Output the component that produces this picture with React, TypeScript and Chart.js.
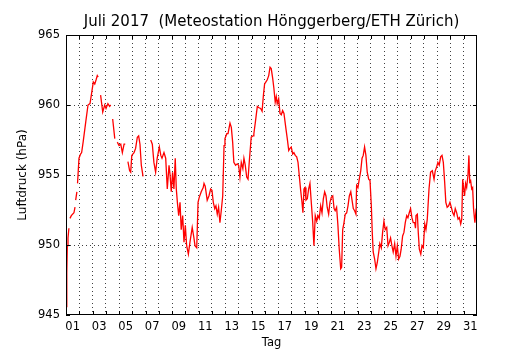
import React, { useEffect, useRef } from 'react';
import { Chart, registerables } from 'chart.js';

Chart.register(...registerables);

const chartTitle = 'Juli 2017  (Meteostation Hönggerberg/ETH Zürich)';
const yAxisTitle = 'Luftdruck (hPa)';
const xAxisTitle = 'Tag';

const dayCount = 31;
const labelDays = [1, 3, 5, 7, 9, 11, 13, 15, 17, 19, 21, 23, 25, 27, 29, 31];
const dayLabels = ['01', '03', '05', '07', '09', '11', '13', '15', '17', '19', '21', '23', '25', '27', '29', '31'];
const yTicks = [945, 950, 955, 960, 965];

// time in days since 1 July 00:00
const sampleDays = [
  0.02, 0.06, 0.10, 0.15, 0.22, 0.26, 0.30, 0.40, 0.60, 0.68, 0.71, 0.73, 0.82, 0.85, 0.87, 0.98,
  1.10, 1.18, 1.30, 1.49, 1.66, 1.81, 1.91, 2.06, 2.17, 2.27, 2.36, 2.43, 2.51, 2.61, 2.77, 2.92,
  3.02, 3.16, 3.29, 3.37, 3.45, 3.52, 3.68, 3.75, 3.87, 4.00, 4.13, 4.25, 4.38, 4.47, 4.56, 4.67,
  4.80, 4.88, 4.96, 5.13, 5.25, 5.38, 5.48, 5.58, 5.68, 5.81, 6.10, 6.39, 6.51, 6.63, 6.76, 6.88,
  7.04, 7.15, 7.24, 7.39, 7.52, 7.64, 7.77, 7.85, 7.94, 8.04, 8.14, 8.24, 8.32, 8.40, 8.50, 8.60,
  8.69, 8.80, 8.90, 9.00, 9.10, 9.23, 9.35, 9.52, 9.65, 9.73, 9.86, 9.96, 10.05, 10.20, 10.35, 10.41,
  10.50, 10.65, 10.78, 10.91, 11.01, 11.11, 11.22, 11.31, 11.41, 11.51, 11.61, 11.71, 11.82, 11.92, 11.99, 12.13,
  12.22, 12.37, 12.47, 12.57, 12.66, 12.79, 12.92, 13.02, 13.12, 13.22, 13.34, 13.42, 13.52, 13.63, 13.73, 13.82,
  13.97, 14.11, 14.17, 14.30, 14.43, 14.56, 14.68, 14.79, 14.89, 14.98, 15.08, 15.18, 15.29, 15.39, 15.48, 15.59,
  15.68, 15.78, 15.86, 15.93, 16.04, 16.14, 16.24, 16.34, 16.44, 16.59, 16.69, 16.80, 16.89, 16.99, 17.10, 17.19,
  17.29, 17.40, 17.50, 17.59, 17.70, 17.80, 17.87, 17.95, 18.03, 18.10, 18.20, 18.30, 18.40, 18.50, 18.61, 18.70,
  18.80, 18.91, 19.00, 19.10, 19.21, 19.31, 19.41, 19.51, 19.61, 19.70, 19.81, 19.91, 20.01, 20.12, 20.22, 20.30,
  20.41, 20.51, 20.61, 20.72, 20.79, 20.87, 20.97, 21.06, 21.17, 21.27, 21.37, 21.48, 21.56, 21.67, 21.77, 21.87,
  21.92, 22.02, 22.12, 22.23, 22.33, 22.42, 22.52, 22.62, 22.72, 22.83, 22.93, 23.03, 23.10, 23.17, 23.28, 23.38,
  23.48, 23.59, 23.67, 23.78, 23.88, 23.98, 24.08, 24.19, 24.29, 24.39, 24.48, 24.58, 24.68, 24.79, 24.89, 24.99,
  25.09, 25.19, 25.28, 25.39, 25.49, 25.59, 25.70, 25.79, 25.89, 25.99, 26.09, 26.19, 26.30, 26.36, 26.40, 26.50,
  26.57, 26.65, 26.76, 26.85, 26.95, 27.06, 27.15, 27.25, 27.38, 27.50, 27.63, 27.76, 27.85, 27.95, 28.05, 28.15,
  28.26, 28.36, 28.46, 28.56, 28.65, 28.75, 28.86, 28.96, 29.06, 29.17, 29.27, 29.36, 29.47, 29.57, 29.67, 29.77,
  29.85, 29.92, 29.99, 30.06, 30.14, 30.22, 30.32, 30.39, 30.45, 30.52, 30.60, 30.67, 30.74, 30.84, 30.94,
];

// air pressure in hPa (null = missing data)
const pressureHpa: (number | null)[] = [
  945.6, 948.0, 949.95, 950.5, 951.2, null, 951.9, 952.1, 952.3, 952.7, null, 953.2, 953.8, null, 954.4, 956.2,
  956.5, 956.6, 957.4, 958.8, 960.0, 960.1, 960.7, 961.65, 961.5, 961.8, 962.1, 962.0, null, 960.7, 959.5, 960.0,
  959.75, 960.1, 959.9, 960.0, null, 959.0, 957.6, null, 957.35, 957.1, 957.2, 956.6, 957.2, 957.2, null, 955.95,
  955.3, 955.2, 956.4, 956.6, 956.9, 957.7, 957.8, 957.2, 955.7, 954.9, null, 957.5, 957.2, 955.9, 955.2, 956.2,
  957.0, 956.4, 956.2, 956.6, 956.2, 954.0, 955.7, 955.0, 953.8, 955.2, 954.0, 956.2, 954.0, 953.05, 952.1, 953.05,
  951.1, 952.1, 950.2, 951.4, 949.95, 949.35, 950.2, 951.25, 950.5, 949.95, 949.8, 953.05, 953.4, 953.8, 954.1, 954.4,
  954.2, 953.2, 953.5, 954.0, 953.9, 953.05, 952.6, 952.8, 952.2, 952.7, 951.6, 952.45, 953.5, 957.1, 957.6, 957.95,
  957.95, 958.7, 958.4, 957.35, 955.9, 955.7, 955.8, 955.7, 954.85, 955.9, 955.45, 956.2, 955.7, 954.85, 954.7, 955.9,
  957.7, 957.8, 957.95, 958.9, 959.9, 959.8, 959.75, 959.55, 960.7, 961.5, 961.65, 961.8, 962.1, 962.7, 962.6, 961.9,
  961.2, 960.2, 960.6, 960.1, 960.45, 959.4, 959.3, 959.6, 959.4, 958.3, 957.6, 956.75, 956.9, 957.0, 956.5, 956.6,
  956.4, 956.3, 955.9, 955.0, 953.9, 953.05, 952.3, 954.0, 954.1, 953.2, 953.3, 954.0, 954.4, 953.05, 951.6, 949.95,
  952.1, 951.7, 952.1, 951.9, 952.8, 952.3, 953.3, 953.8, 953.5, 952.7, 952.2, 953.05, 953.4, 953.5, 952.6, 952.45,
  952.7, 951.4, 949.7, 948.3, 948.4, 951.1, 951.6, 952.2, 952.3, 952.8, 953.5, 953.8, 953.3, 952.6, 952.45, 952.2,
  954.25, 954.1, 954.7, 955.3, 956.2, 956.4, 957.0, 956.4, 955.2, 954.7, 954.6, 952.8, 950.9, 949.5, 949.0, 948.3,
  948.75, 949.5, 950.1, 949.8, 950.9, 951.7, 951.1, 951.25, 949.95, 950.2, 950.5, 949.95, 949.5, 950.1, 949.2, 949.95,
  949.0, 949.2, 949.7, 950.65, 950.9, 951.6, 952.1, 951.95, 952.3, 952.6, 951.95, 951.6, 951.6, 951.2, 952.1, 952.2,
  950.9, 949.7, 949.35, 949.95, 949.8, 951.5, 951.1, 951.85, 954.0, 955.2, 955.3, 954.7, 955.3, 955.55, 955.9, 955.7,
  956.3, 956.4, 955.9, 954.5, 953.05, 952.7, 952.8, 953.05, 952.7, 952.3, 952.1, 952.6, 952.3, 951.85, 951.95, 951.5,
  951.85, 954.7, 954.1, 953.5, 954.4, 954.1, 955.0, 956.4, 954.5, 954.6, 954.0, 954.1, 952.6, 951.6, 952.6,
];

const FONT = 'DejaVu Sans';
const gridDots = 'rgba(0,0,0,0.75)';

const framePlugin = {
  id: 'mplFrame',
  afterDatasetsDraw(chart: any) {
    const { ctx, chartArea, scales } = chart;
    const { left, right, top, bottom } = chartArea;
    const xs = scales.x;
    const ys = scales.y;
    ctx.save();
    ctx.strokeStyle = '#000';
    ctx.lineWidth = 1;
    ctx.beginPath();
    for (let d = 1; d < dayCount; d++) {
      const px = Math.round(xs.getPixelForValue(d)) + 0.5;
      ctx.moveTo(px, bottom);
      ctx.lineTo(px, bottom - 4);
      ctx.moveTo(px, top);
      ctx.lineTo(px, top + 4);
    }
    for (const v of yTicks) {
      const py = Math.round(ys.getPixelForValue(v)) + 0.5;
      ctx.moveTo(left, py);
      ctx.lineTo(left + 4, py);
      ctx.moveTo(right, py);
      ctx.lineTo(right - 4, py);
    }
    ctx.stroke();
    ctx.strokeRect(left + 0.5, top + 0.5, right - left - 1, bottom - top - 1);
    ctx.restore();
  },
};

export default function App() {
  const canvasRef = useRef<HTMLCanvasElement | null>(null);

  useEffect(() => {
    if (!canvasRef.current) return;
    const points = sampleDays.map((t, i) => ({ x: t, y: pressureHpa[i] }));

    const chart = new Chart(canvasRef.current, {
      type: 'line',
      data: {
        datasets: [
          {
            data: points as any,
            borderColor: '#ff0000',
            borderWidth: 1.3,
            pointRadius: 0,
            tension: 0,
            spanGaps: false,
            fill: false,
          },
        ],
      },
      options: {
        animation: false,
        responsive: false,
        devicePixelRatio: 1,
        events: [],
        layout: { padding: { left: 0, right: 53, top: 0, bottom: 0 } },
        plugins: {
          legend: { display: false },
          tooltip: { enabled: false },
          title: {
            display: true,
            text: chartTitle,
            fullSize: false,
            color: '#000',
            font: { family: FONT, size: 15, weight: 'normal' as any },
            padding: { top: 13.5, bottom: 3.5 },
          },
        },
        scales: {
          x: {
            type: 'linear',
            min: 0,
            max: dayCount,
            afterBuildTicks: (scale: any) => {
              const ticks = [];
              for (let i = 0; i <= dayCount * 2; i++) ticks.push({ value: i / 2 });
              scale.ticks = ticks;
            },
            afterFit: (scale: any) => {
              scale.height = 35;
            },
            ticks: {
              autoSkip: false,
              maxRotation: 0,
              minRotation: 0,
              padding: 5,
              color: '#000',
              font: { family: FONT, size: 11.5 },
              callback: (value: any) => {
                const idx = labelDays.indexOf(Number(value) + 0.5);
                return idx >= 0 ? dayLabels[idx] : '';
              },
            },
            grid: {
              drawTicks: false,
              lineWidth: 1,
              color: (ctx: any) => {
                const v = ctx.tick ? ctx.tick.value : -1;
                return Number.isInteger(v) && v > 0 && v < dayCount ? gridDots : 'rgba(0,0,0,0)';
              },
            },
            border: { display: false, dash: [1, 3] },
            title: {
              display: true,
              text: xAxisTitle,
              color: '#000',
              font: { family: FONT, size: 11.5 },
              padding: { top: 0, bottom: 0 },
            },
          },
          y: {
            type: 'linear',
            min: yTicks[0],
            max: yTicks[yTicks.length - 1],
            afterBuildTicks: (scale: any) => {
              scale.ticks = yTicks.map((v) => ({ value: v }));
            },
            afterFit: (scale: any) => {
              scale.width = 66;
            },
            ticks: {
              padding: 6,
              color: '#000',
              font: { family: FONT, size: 11.5 },
              callback: (value: any) => String(value),
            },
            grid: {
              drawTicks: false,
              lineWidth: 1,
              color: (ctx: any) => {
                const v = ctx.tick ? ctx.tick.value : -1;
                return v > yTicks[0] && v < yTicks[yTicks.length - 1] ? gridDots : 'rgba(0,0,0,0)';
              },
            },
            border: { display: false, dash: [1, 3] },
            title: {
              display: true,
              text: yAxisTitle,
              color: '#000',
              font: { family: FONT, size: 12 },
              padding: { top: 15.5, bottom: 0 },
            },
          },
        },
      },
      plugins: [framePlugin],
    });

    return () => {
      chart.destroy();
    };
  }, []);

  return (
    <div style={{ position: 'absolute', left: 0, top: 0, width: 530, height: 350, background: '#fff' }}>
      <canvas ref={canvasRef} width={530} height={350} style={{ display: 'block' }} />
    </div>
  );
}
